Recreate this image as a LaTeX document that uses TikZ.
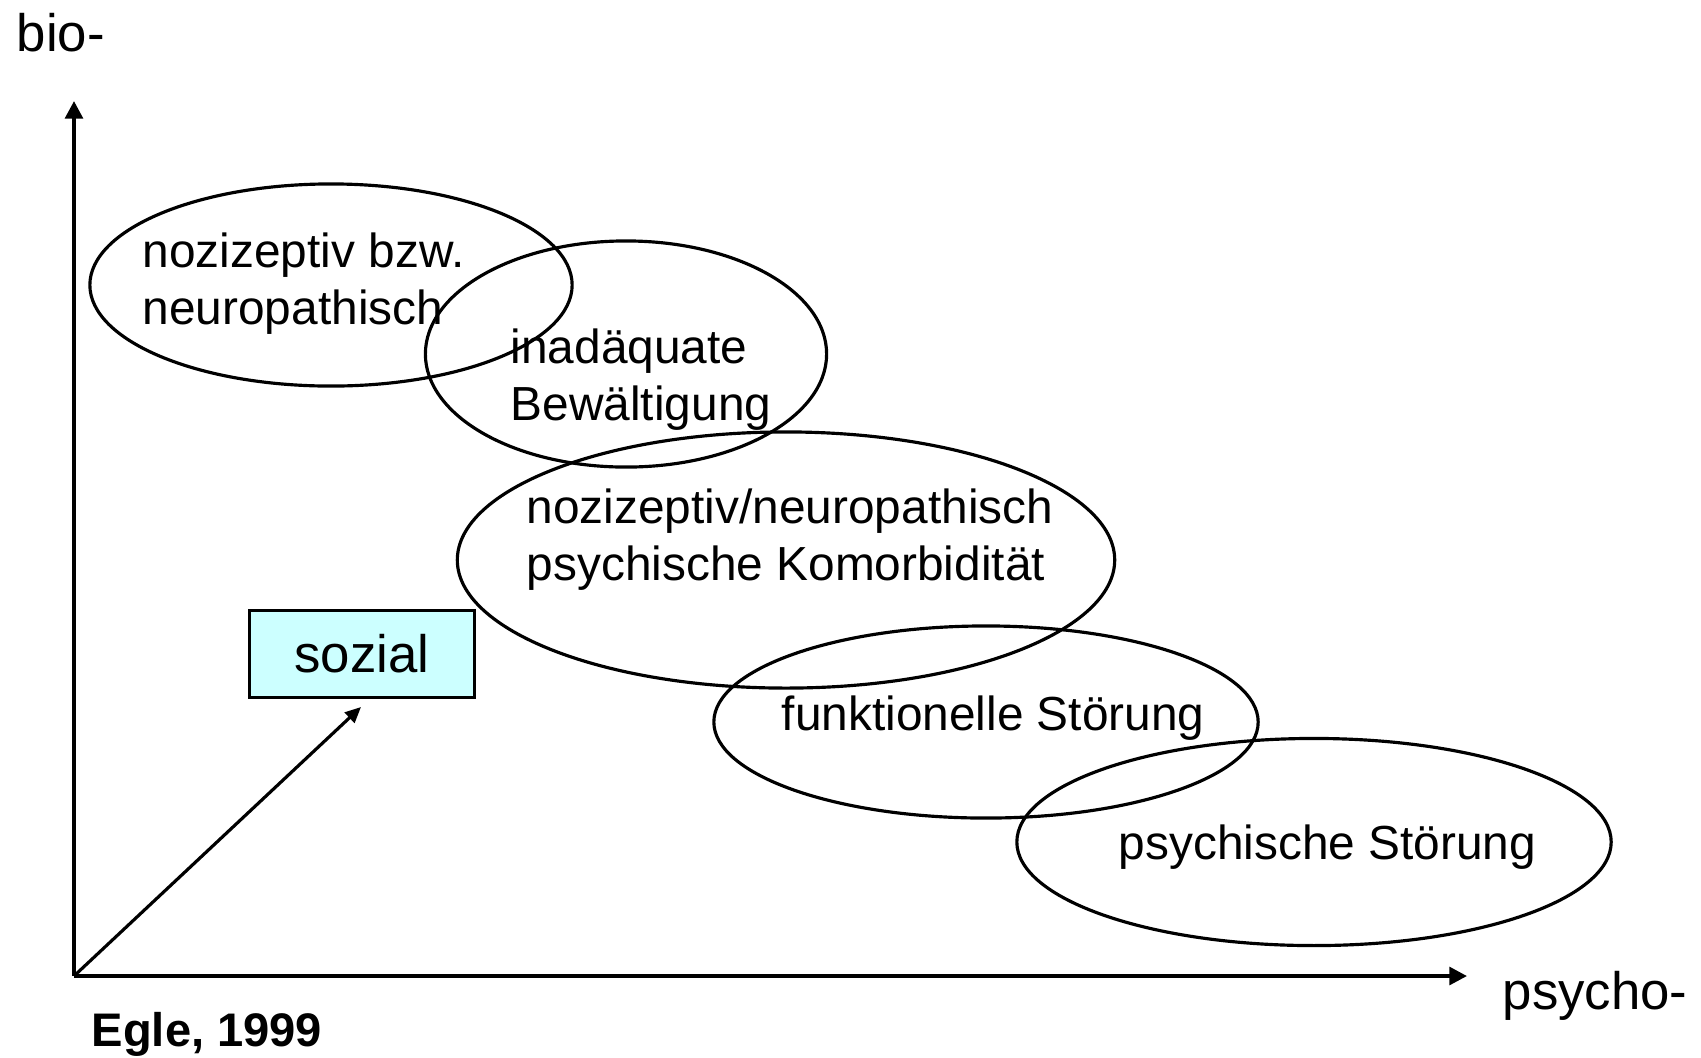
\documentclass[tikz,border=0pt]{standalone}
\usepackage{fontspec}
\setmainfont{Liberation Sans}
\usetikzlibrary{arrows.meta,positioning,shapes.geometric}
\definecolor{soBox}{RGB}{204,255,255}

\begin{document}
\begin{tikzpicture}[x=0.01cm, y=-0.01cm,
    every node/.style={font=\fontsize{13.6}{16.2}\selectfont, inner sep=0pt},
    axis/.style={line width=1.1pt, -{Triangle[length=5pt,width=5pt]}},
    oval/.style={draw, ellipse, line width=0.9pt},
    lbl/.style={anchor=west, align=left},
    big/.style={font=\fontsize{15}{18}\selectfont}]
  \useasboundingbox (0,0) rectangle (1701,1057);
  % Axes
  \coordinate (origin) at (74,976);
  \coordinate (ytop) at (74,101);
  \coordinate (xend) at (1467,976);
  \draw[axis] (origin) -- (ytop);
  \draw[axis] (origin) -- (xend);
  \node[big, anchor=west] (bio) at (16,33) {bio-};
  \node[big, anchor=west] (psycho) at (1502,996) {psycho-};
  \node[anchor=west, font=\fontsize{13.4}{16}\selectfont\bfseries] (egle) at (91,1034) {Egle, 1999};
  % Ellipses
  \node[oval, minimum width=4.82cm, minimum height=2.02cm] (nozi) at (331,285) {};
  \node[oval, minimum width=4.01cm, minimum height=2.26cm] (bewa) at (626,354) {};
  \node[oval, minimum width=6.57cm, minimum height=2.56cm] (komo) at (786,560) {};
  \node[oval, minimum width=5.44cm, minimum height=1.92cm] (funk) at (986,722) {};
  \node[oval, minimum width=5.94cm, minimum height=2.07cm] (psys) at (1314,842) {};
  % Labels
  \node[lbl] (noziT) at (142,284) {nozizeptiv bzw.\\neuropathisch};
  \node[lbl] (bewaT) at (510,380) {inad\"aquate\\Bew\"altigung};
  \node[lbl] (komoT) at (526,540) {nozizeptiv/neuropathisch\\psychische Komorbidit\"at};
  \node[lbl] (funkT) at (781,718) {funktionelle St\"orung};
  \node[lbl] (psysT) at (1118,847) {psychische St\"orung};
  % Sozial
  \node[big, draw, line width=0.9pt, fill=soBox, minimum width=2.25cm, minimum height=0.87cm] (sozial) at (362,654) {sozial};
  \coordinate (tip) at (361,707);
  \draw[line width=0.9pt, -{Triangle[length=4.5pt,width=4pt]}] (origin) -- (tip);
\end{tikzpicture}
\end{document}
